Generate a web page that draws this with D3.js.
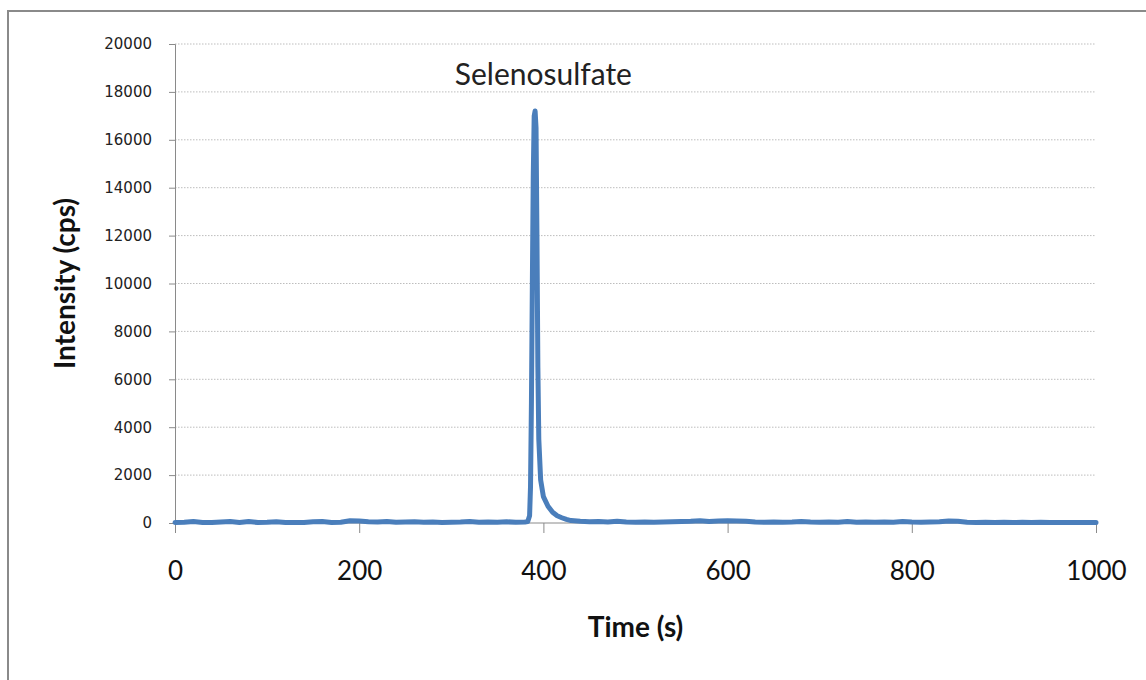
<!DOCTYPE html>
<html>
<head>
<meta charset="utf-8">
<script src="https://cdn.jsdelivr.net/npm/d3@7"></script>
<style>
  body { margin: 0; background: #fff; }
  .grid line { stroke: #bdbdbd; stroke-dasharray: 1.5 1.5; }
</style>
</head>
<body>
<div id="chart-area"></div>
<script>
// retention times (s) and measured intensity (cps)
const times = [
  0, 10, 20, 30, 40, 50, 60, 70, 80, 90,
  100, 110, 120, 130, 140, 150, 160, 170, 180, 190,
  200, 210, 220, 230, 240, 250, 260, 270, 280, 290,
  300, 310, 320, 330, 340, 350, 360, 370, 380,
  383, 385, 386, 387, 388, 389, 390, 391, 392, 393, 394, 395, 397,
  400, 405, 410, 415, 420, 425, 430, 440,
  450, 460, 470, 480, 490, 500, 510, 520, 530, 540,
  550, 560, 570, 580, 590, 600, 610, 620, 630, 640,
  650, 660, 670, 680, 690, 700, 710, 720, 730, 740,
  750, 760, 770, 780, 790, 800, 810, 820, 830, 840,
  850, 860, 870, 880, 890, 900, 910, 920, 930, 940,
  950, 960, 970, 980, 990, 1000
];
const intensity = [
  20, 30, 60, 25, 20, 40, 60, 25, 60, 20,
  30, 50, 20, 25, 20, 50, 60, 20, 30, 90,
  80, 50, 40, 60, 30, 40, 50, 30, 40, 25,
  30, 40, 60, 30, 40, 30, 50, 30, 40,
  60, 300, 1500, 5000, 10000, 14500, 17000, 17200, 16500, 12000, 6500, 3500, 1800,
  1100, 700, 450, 300, 220, 150, 100, 70,
  50, 60, 40, 70, 40, 30, 40, 30, 40, 50,
  60, 70, 90, 60, 80, 90, 80, 70, 40, 30,
  40, 30, 40, 60, 40, 30, 40, 30, 60, 30,
  40, 30, 40, 30, 60, 40, 30, 40, 50, 80,
  70, 30, 20, 30, 20, 30, 20, 30, 20, 30,
  20, 20, 20, 20, 20, 20
];
const yTicks = [0, 2000, 4000, 6000, 8000, 10000, 12000, 14000, 16000, 18000, 20000];
const xTicks = [0, 200, 400, 600, 800, 1000];
const peakLabel = {name: 'Selenosulfate', time: 400, value: 18300};

const margin = {left: 175, right: 50, top: 44, bottom: 157};
const width = 1146 - margin.left - margin.right;
const height = 680 - margin.top - margin.bottom;

const svg = d3.select('#chart-area')
  .append('svg')
    .attr('width', 1146)
    .attr('height', 680);

// outer frame
svg.append('rect')
  .attr('x', 8)
  .attr('y', 11)
  .attr('width', 1150)
  .attr('height', 690)
  .attr('fill', 'none')
  .attr('stroke', '#8a8a8a')
  .attr('stroke-width', 2);

const g = svg.append('g')
  .attr('transform', `translate(${margin.left}, ${margin.top})`);

const x = d3.scaleLinear()
  .domain([0, 1000])
  .range([0, width]);

const y = d3.scaleLinear()
  .domain([0, 20000])
  .range([height, 0]);

// gridlines
g.append('g')
  .attr('class', 'grid')
  .selectAll('line')
  .data(yTicks.filter(d => d > 0))
  .enter().append('line')
    .attr('x1', 0)
    .attr('x2', width)
    .attr('y1', d => y(d))
    .attr('y2', d => y(d));

// Y axis
const yAxis = g.append('g')
  .call(d3.axisLeft(y).tickValues(yTicks).tickFormat(d3.format('d'))
    .tickSize(6).tickPadding(17));
yAxis.selectAll('path, line').attr('stroke', '#8a8a8a');
yAxis.selectAll('text')
  .attr('font-family', 'DejaVu Sans, Verdana, sans-serif')
  .attr('font-size', '15px')
  .attr('fill', '#222');

// X axis
const xAxis = g.append('g')
  .attr('transform', `translate(0, ${height})`)
  .call(d3.axisBottom(x).tickValues(xTicks).tickFormat(d3.format('d'))
    .tickSize(10).tickPadding(29).tickSizeOuter(0));
xAxis.selectAll('path, line').attr('stroke', '#8a8a8a');
xAxis.select('path').attr('d', `M0,0H${width}`);
xAxis.selectAll('text')
  .attr('font-family', 'Lato, "Open Sans", sans-serif')
  .attr('font-size', '26px')
  .attr('fill', '#111');

// series
const data = times.map((t, i) => ({t: t, v: intensity[i]}));
const line = d3.line()
  .x(d => x(d.t))
  .y(d => y(d.v));

g.append('path')
  .datum(data)
  .attr('d', line)
  .attr('fill', 'none')
  .attr('stroke', '#4a7ebb')
  .attr('stroke-width', 5)
  .attr('stroke-linejoin', 'round')
  .attr('stroke-linecap', 'round');

// peak label
g.append('text')
  .attr('x', x(peakLabel.time))
  .attr('y', y(peakLabel.value))
  .attr('text-anchor', 'middle')
  .attr('font-family', 'Lato, "Open Sans", sans-serif')
  .attr('font-size', '30px')
  .attr('fill', '#222')
  .text(peakLabel.name);

// X Label
g.append('text')
  .attr('x', width / 2)
  .attr('y', height + 114)
  .attr('text-anchor', 'middle')
  .attr('font-family', 'Lato, "Open Sans", sans-serif')
  .attr('font-weight', 'bold')
  .attr('font-size', '28px')
  .attr('fill', '#111')
  .text('Time (s)');

// Y Label
g.append('text')
  .attr('x', -(height / 2))
  .attr('y', -100)
  .attr('text-anchor', 'middle')
  .attr('transform', 'rotate(-90)')
  .attr('font-family', 'Lato, "Open Sans", sans-serif')
  .attr('font-weight', 'bold')
  .attr('font-size', '28px')
  .attr('fill', '#111')
  .text('Intensity (cps)');
</script>
</body>
</html>
